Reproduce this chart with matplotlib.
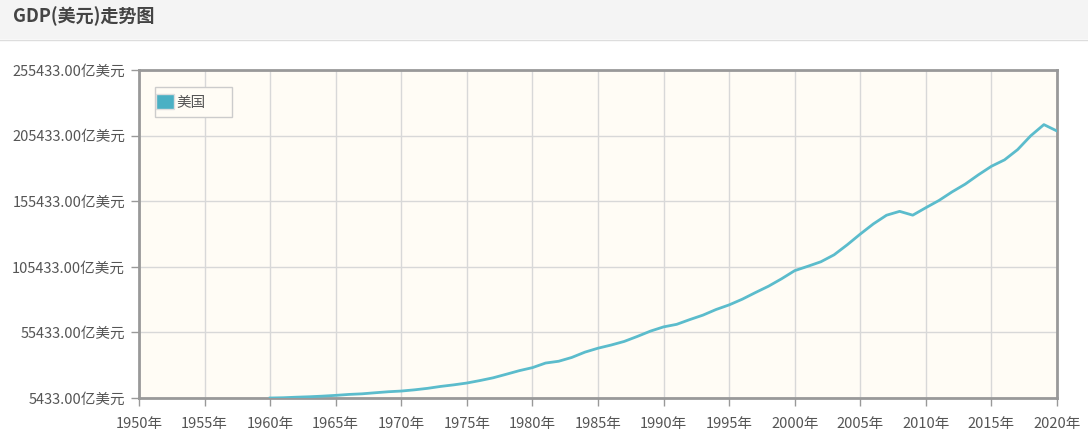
import matplotlib.pyplot as plt
from matplotlib.patches import Rectangle, Patch

plt.rcParams['font.family'] = ['Noto Sans CJK SC', 'DejaVu Sans']

# 美国 GDP, 单位: 亿美元
years = list(range(1960, 2021))
gdp = [5433, 5633, 6051, 6386, 6858, 7437, 8150, 8617, 9425, 10199,
       10733, 11649, 12791, 14254, 15452, 16849, 18734, 20818, 23516, 26273,
       28573, 32070, 33438, 36340, 40376, 43390, 45796, 48552, 52364, 56416,
       59631, 61581, 65203, 68586, 72872, 76397, 80731, 85776, 90628, 96312,
       102510, 105819, 109291, 114564, 122172, 130392, 138156, 144742, 147699, 144781,
       150490, 155997, 162540, 168432, 175507, 182060, 186951, 194773, 205331, 213810,
       208937]
yticks = [5433, 55433, 105433, 155433, 205433, 255433]
xticks = list(range(1950, 2021, 5))

W, H = 1088, 436
fig = plt.figure(figsize=(W / 100, H / 100), dpi=100)
fig.patch.set_facecolor('white')

# title bar
fig.patches.append(Rectangle((0, 1 - 39 / H), 1, 39 / H, transform=fig.transFigure,
                             facecolor='#f4f4f4', edgecolor='none', zorder=0))
fig.lines.append(plt.Line2D([0, 1], [1 - 40 / H] * 2, transform=fig.transFigure,
                            color='#dddddd', lw=1))
fig.text(13 / W, 1 - 16 / H, 'GDP(美元)走势图', fontsize=13, fontweight='bold',
         color='#444444', va='center', ha='left')

ax = fig.add_axes([139 / W, 1 - 398 / H, 918 / W, 328 / H])
ax.set_facecolor('#fffcf5')
ax.plot(years, gdp, color='#5bbccc', lw=2, zorder=3)
ax.set_xlim(1950, 2020)
ax.set_ylim(5433, 255433)
ax.set_xticks(xticks)
ax.set_xticklabels([f'{x}年' for x in xticks])
ax.set_yticks(yticks)
ax.set_yticklabels([f'{y:.2f}亿美元' for y in yticks])
ax.grid(True, color='#d8d8d8', lw=1)
ax.set_axisbelow(True)
for s in ax.spines.values():
    s.set_color('#999999')
    s.set_linewidth(2)
ax.tick_params(colors='#999999', labelcolor='#555555', labelsize=10.5, length=6, width=1)
ax.tick_params(axis='x', pad=8)
ax.tick_params(axis='y', pad=4)

# legend box (drawn inside the axes so the legend sits above it)
ax.add_patch(Rectangle((155 / W, 1 - 117 / H), 77 / W, 30 / H, transform=fig.transFigure,
                       facecolor='#fffcf5', edgecolor='#cccccc', lw=1, zorder=5,
                       clip_on=False))
leg = ax.legend(handles=[Patch(facecolor='#4ab0c4', edgecolor='#dddddd', label='美国')],
                loc='center left', bbox_to_anchor=(155 / W, 1 - 102 / H),
                bbox_transform=fig.transFigure, frameon=False,
                handlelength=1.2, handleheight=1.2, handletextpad=0.15,
                fontsize=10.5, borderpad=0.1, borderaxespad=0, labelcolor='#555555')
leg.set_zorder(6)

fig.savefig('out.png', dpi=100)
